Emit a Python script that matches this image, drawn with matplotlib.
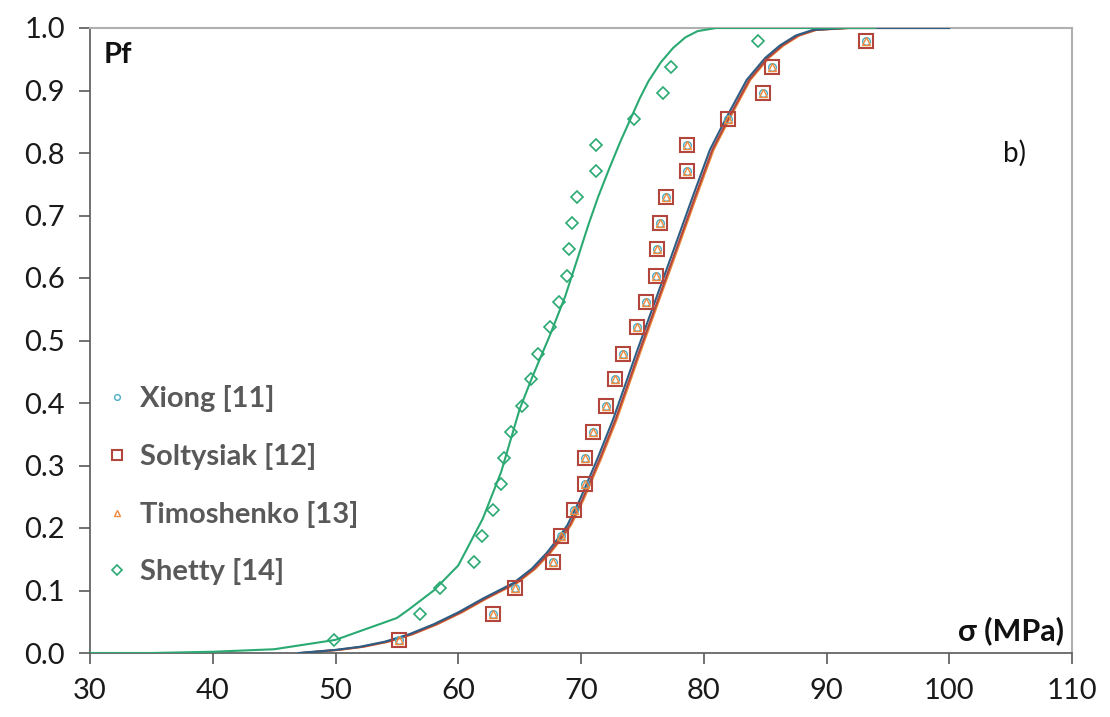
import matplotlib
matplotlib.use("Agg")
import matplotlib.pyplot as plt

pf_points = [0.021, 0.062, 0.104, 0.146, 0.188, 0.229, 0.271, 0.312,
             0.354, 0.396, 0.438, 0.479, 0.521, 0.562, 0.604, 0.646,
             0.688, 0.729, 0.771, 0.812, 0.854, 0.896, 0.938, 0.979]

sigma_ref = [55.2, 62.8, 64.6, 67.7, 68.4, 69.4, 70.3, 70.3,
             71.0, 72.0, 72.8, 73.4, 74.6, 75.3, 76.1, 76.2,
             76.4, 76.9, 78.6, 78.6, 82.0, 84.8, 85.6, 93.2]

sigma_shetty = [49.9, 56.9, 58.5, 61.3, 61.9, 62.8, 63.5, 63.7,
                64.3, 65.2, 65.9, 66.5, 67.5, 68.2, 68.9, 69.0,
                69.3, 69.7, 71.2, 71.2, 74.3, 76.7, 77.3, 84.4]

# ── fitted curves ────────────────────────────────────────────────────────────
xiong_x = [47.0, 50.0, 52.0, 54.0, 56.0, 58.0, 60.0, 62.0, 64.5, 66.0,
           67.2, 68.2, 68.9, 69.9, 71.3, 72.6, 74.6, 77.4, 79.1, 80.5,
           81.8, 83.5, 85.0, 86.2, 87.5, 88.9, 91.6, 100.0]
xiong_y = [0.000, 0.005, 0.010, 0.018, 0.030, 0.046, 0.065, 0.087, 0.112, 0.135,
           0.160, 0.185, 0.205, 0.245, 0.309, 0.373, 0.485, 0.637, 0.730, 0.805,
           0.855, 0.917, 0.952, 0.972, 0.988, 0.997, 1.000, 1.000]

solt_x = [47.2, 50.2, 52.2, 54.2, 56.2, 58.2, 60.2, 62.2, 64.7, 66.2,
          67.4, 68.4, 69.1, 70.1, 71.5, 72.8, 74.8, 77.6, 79.3, 80.7,
          82.0, 83.7, 85.2, 86.4, 87.7, 89.1, 91.8, 100.0]
solt_y = xiong_y

timo_x = [47.3, 50.3, 52.3, 54.3, 56.3, 58.3, 60.3, 62.3, 64.8, 66.3,
          67.5, 68.5, 69.2, 70.2, 71.6, 72.9, 74.9, 77.7, 79.4, 80.8,
          82.1, 83.8, 85.3, 86.5, 87.8, 89.2, 91.9, 100.0]
timo_y = xiong_y

shetty_x = [30.0, 35.0, 40.0, 45.0, 50.0, 55.0, 56.0, 58.0, 60.0, 62.0,
            63.5, 65.0, 66.0, 67.5, 68.7, 69.7, 70.6, 71.4, 72.3, 73.2,
            74.0, 74.8, 75.5, 76.5, 77.5, 78.5, 79.5, 81.0, 94.0]
shetty_y = [0.000, 0.000, 0.002, 0.006, 0.021, 0.056, 0.070, 0.100, 0.140, 0.215,
            0.290, 0.390, 0.440, 0.510, 0.570, 0.630, 0.685, 0.730, 0.775, 0.818,
            0.853, 0.888, 0.915, 0.945, 0.968, 0.985, 0.995, 1.000, 1.000]

x_ticks = [30, 40, 50, 60, 70, 80, 90, 100, 110]
y_ticks = [0.0, 0.1, 0.2, 0.3, 0.4, 0.5, 0.6, 0.7, 0.8, 0.9, 1.0]

C_XIONG = "#4bacc6"
C_XIONG_LINE = "#2e5d84"
C_SOLT = "#b2463c"
C_TIMO = "#f08a3c"
C_SHETTY = "#2aaa72"

plt.rcParams["font.family"] = ["Lato", "DejaVu Sans"]

fig = plt.figure(figsize=(11.1, 7.17), dpi=100)
ax = fig.add_axes([90 / 1110, 1 - 653 / 717, (1072 - 90) / 1110, (653 - 28) / 717])

# curves
ax.plot(timo_x, timo_y, color=C_TIMO, lw=1.5, zorder=2)
ax.plot(solt_x, solt_y, color=C_SOLT, lw=1.5, zorder=2)
ax.plot(xiong_x, xiong_y, color=C_XIONG_LINE, lw=1.5, zorder=3)
ax.plot(shetty_x, shetty_y, color=C_SHETTY, lw=1.5, zorder=3)

# points
ax.plot(sigma_ref, pf_points, ls="none", marker="o", ms=5.5, mfc="none",
        mec=C_XIONG, mew=1.0, label="Xiong [11]", zorder=4)
ax.plot(sigma_ref, pf_points, ls="none", marker="s", ms=10, mfc="none",
        mec=C_SOLT, mew=1.5, label="Soltysiak [12]", zorder=5)
ax.plot(sigma_ref, pf_points, ls="none", marker="^", ms=5.5, mfc="none",
        mec=C_TIMO, mew=1.0, label="Timoshenko [13]", zorder=4)
ax.plot(sigma_shetty, pf_points, ls="none", marker="D", ms=6.5, mfc="none",
        mec=C_SHETTY, mew=1.2, label="Shetty [14]", zorder=5)

ax.set_xlim(30, 110)
ax.set_ylim(0, 1.0)
ax.set_xticks(x_ticks)
ax.set_yticks(y_ticks)
ax.set_yticklabels([f"{v:.1f}" for v in y_ticks])

for side in ["left", "bottom"]:
    ax.spines[side].set_color("#595959")
    ax.spines[side].set_linewidth(1.2)
for side in ["top", "right"]:
    ax.spines[side].set_color("#b0b0b0")
    ax.spines[side].set_linewidth(1.5)

ax.tick_params(axis="both", direction="out", length=8, width=1.2,
               color="#595959", labelsize=21, labelcolor="#1a1a1a")
ax.tick_params(axis="x", pad=10)
ax.tick_params(axis="y", pad=10)

ax.text(0.014, 0.978, "Pf", transform=ax.transAxes, fontsize=21,
        fontweight="bold", color="#111111", va="top", ha="left")
ax.text(0.93, 0.80, "b)", transform=ax.transAxes, fontsize=20,
        color="#111111", va="center", ha="left")
ax.text(0.992, 0.012, "σ (MPa)", transform=ax.transAxes, fontsize=22,
        fontweight="bold", color="#111111", va="bottom", ha="right")

leg = ax.legend(loc="upper left", bbox_to_anchor=(-0.008, 0.47), frameon=False,
                prop={"weight": "bold", "size": 21}, labelcolor="#595959",
                handlelength=0.6, handletextpad=0.5, labelspacing=1.05,
                markerscale=0.75)

fig.savefig("out.png", dpi=100)
